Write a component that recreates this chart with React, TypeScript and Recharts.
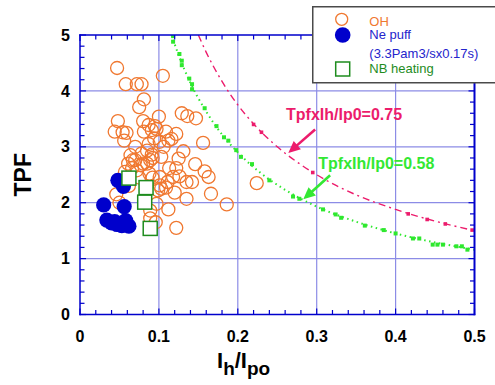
import React from 'react';
import {
  ComposedChart,
  XAxis,
  YAxis,
  Scatter,
  Line,
  ReferenceLine,
  ReferenceDot,
} from 'recharts';

const FONT = 'Liberation Sans, Arial, Helvetica, sans-serif';

const CHART_W = 495;
const CHART_H = 385;
const MARGIN = { top: 35, right: 20.5, bottom: 30.5, left: 30 };
const Y_AXIS_W = 50;
const X_AXIS_H = 40;
const PLOT = {
  x: MARGIN.left + Y_AXIS_W,
  y: MARGIN.top,
  w: CHART_W - MARGIN.left - Y_AXIS_W - MARGIN.right,
  h: CHART_H - MARGIN.top - MARGIN.bottom - X_AXIS_H,
};

const xDomain = [0, 0.5];
const yDomain = [0, 5];
const xTicks = [0, 0.02, 0.04, 0.06, 0.08, 0.1, 0.12, 0.14, 0.16, 0.18, 0.2, 0.22, 0.24, 0.26, 0.28, 0.3, 0.32, 0.34, 0.36, 0.38, 0.4, 0.42, 0.44, 0.46, 0.48, 0.5];
const yTicks = [0, 0.2, 0.4, 0.6, 0.8, 1, 1.2, 1.4, 1.6, 1.8, 2, 2.2, 2.4, 2.6, 2.8, 3, 3.2, 3.4, 3.6, 3.8, 4, 4.2, 4.4, 4.6, 4.8, 5];
const xMajorLabels = ['0', '0.1', '0.2', '0.3', '0.4', '0.5'];
const yMajorLabels = ['0', '1', '2', '3', '4', '5'];
const xGrid = [0.1, 0.2, 0.3, 0.4];
const yGrid = [1, 2, 3, 4];

// OH discharges (open orange circles)
const ohPoints: number[][] = [
  [0.047, 4.41], [0.058, 4.12], [0.072, 4.12], [0.078, 4.12], [0.105, 4.27],
  [0.081, 3.85], [0.075, 3.71], [0.048, 3.46], [0.044, 3.27], [0.054, 3.26],
  [0.059, 3.25], [0.056, 3.11], [0.080, 3.46], [0.087, 3.39], [0.081, 3.27],
  [0.100, 3.54], [0.097, 3.32], [0.091, 3.30], [0.095, 3.37], [0.109, 3.27],
  [0.122, 3.23], [0.116, 3.14], [0.112, 3.11], [0.101, 3.09], [0.106, 3.00],
  [0.129, 3.60], [0.136, 3.55], [0.147, 3.51], [0.156, 3.07],
  [0.064, 2.85], [0.067, 2.76], [0.061, 2.70], [0.070, 2.76], [0.077, 2.67],
  [0.080, 2.70], [0.085, 2.93], [0.089, 2.76], [0.091, 2.86], [0.092, 2.80],
  [0.085, 2.70], [0.103, 2.82], [0.125, 2.79], [0.122, 2.62], [0.118, 2.46],
  [0.126, 2.47], [0.146, 2.69], [0.158, 2.56], [0.163, 2.46], [0.135, 2.37],
  [0.142, 2.37], [0.111, 2.37], [0.101, 2.46], [0.101, 2.31], [0.109, 2.27],
  [0.103, 2.25], [0.120, 2.18], [0.135, 2.07], [0.166, 2.16], [0.099, 2.22],
  [0.097, 1.98], [0.112, 1.88], [0.122, 1.55], [0.096, 1.65], [0.186, 1.97],
  [0.224, 2.35],
  [0.057, 2.55], [0.072, 2.58], [0.088, 2.52], [0.092, 2.45], [0.046, 2.15],
  [0.050, 2.00], [0.089, 1.86], [0.089, 1.72], [0.062, 2.30], [0.075, 2.45],
  [0.066, 2.62], [0.078, 2.88], [0.087, 3.05], [0.070, 3.00], [0.113, 2.62],
  [0.131, 2.92], [0.094, 3.15],
];

// Ne puff (filled blue circles)
const nePoints: number[][] = [
  [0.048, 2.40], [0.055, 2.29], [0.030, 1.96], [0.056, 1.93], [0.034, 1.69],
  [0.040, 1.64], [0.047, 1.61], [0.053, 1.59], [0.062, 1.58], [0.058, 1.68],
  [0.044, 1.66],
];

// NB heating (open green squares)
const nbPoints: number[][] = [
  [0.062, 2.44], [0.0837, 2.27], [0.082, 2.01], [0.089, 1.54],
];

// Tpf x Ih/Ip0 = 0.75 curve
const curve075: number[][] = [
  [0.15, 5.0], [0.16, 4.69], [0.18, 4.17], [0.2, 3.75], [0.22, 3.41], [0.25, 3.0],
  [0.28, 2.68], [0.3, 2.5], [0.35, 2.14], [0.4, 1.88], [0.45, 1.67], [0.5, 1.5],
];
const marks075: number[][] = [
  [0.22, 3.40], [0.23, 3.26], [0.295, 2.54], [0.416, 1.80], [0.44, 1.70], [0.463, 1.62], [0.497, 1.51],
];

// Tpf x Ih/Ip0 = 0.58 curve
const curve058: number[][] = [
  [0.116, 5.0], [0.125, 4.64], [0.14, 4.14], [0.16, 3.63], [0.18, 3.22], [0.2, 2.9],
  [0.23, 2.52], [0.26, 2.23], [0.3, 1.93], [0.35, 1.66], [0.4, 1.45], [0.45, 1.29], [0.5, 1.16],
];
const marks058: number[][] = [
  [0.118, 4.98], [0.118, 4.88], [0.126, 4.66], [0.129, 4.54], [0.129, 4.46], [0.1385, 4.22],
  [0.142, 4.12], [0.142, 4.03], [0.158, 3.69], [0.173, 3.37], [0.1825, 3.17], [0.188, 3.11],
  [0.198, 2.94], [0.204, 2.82], [0.218, 2.69], [0.240, 2.40], [0.270, 2.11], [0.278, 2.07],
  [0.308, 1.88], [0.324, 1.79], [0.331, 1.73], [0.361, 1.59], [0.385, 1.51], [0.40, 1.45],
  [0.422, 1.36], [0.430, 1.36], [0.447, 1.25], [0.453, 1.25], [0.460, 1.25], [0.477, 1.22],
  [0.484, 1.22], [0.491, 1.16],
];

const annotations = [
  { text: 'TpfxIh/Ip0=0.75', x: 0.2611, y: 3.477, color: '#ec1c6c' },
  { text: 'TpfxIh/Ip0=0.58', x: 0.302, y: 2.61, color: '#33e833' },
];
const arrows = [
  { from: [0.298, 3.31], to: [0.264, 2.89], color: '#ec1c6c' },
  { from: [0.317, 2.49], to: [0.283, 2.06], color: '#33e833' },
];

const legendItems = [
  { label: 'OH', color: '#f07830' },
  { label: 'Ne puff', color: '#2424cc' },
  { label: '(3.3Pam3/sx0.17s)', color: '#2424cc' },
  { label: 'NB heating', color: '#1e8c1e' },
];

const toXY = (a: number[][]) => a.map(([x, y]) => ({ x, y }));

const AXIS_COLOR = 'rgb(0, 0, 204)';
const GRID = '#8c8ce6';

const isMajor = (v: number, step: number) => Math.abs(v / step - Math.round(v / step)) < 1e-6;

const OHShape = (p: any) => (
  <circle cx={p.cx} cy={p.cy} r={6.5} fill="none" stroke="#f07830" strokeWidth={1.3} />
);
const NeShape = (p: any) => <circle cx={p.cx} cy={p.cy} r={7.6} fill="#0000cc" />;
const NBShape = (p: any) => (
  <rect x={p.cx - 7} y={p.cy - 7} width={14} height={14} fill="#ffffff" stroke="#1e8c1e" strokeWidth={1.5} />
);
const PinkMark = (p: any) => <rect x={p.cx - 1.8} y={p.cy - 1.8} width={3.6} height={3.6} fill="#ec1c6c" />;
const GreenMark = (p: any) => <rect x={p.cx - 2} y={p.cy - 2} width={4} height={4} fill="#2ee82e" />;

// Plot frame with inward ticks on all four sides
const FrameOverlay = () => {
  const { x, y, w, h } = PLOT;
  const sx = (v: number) => x + ((v - xDomain[0]) / (xDomain[1] - xDomain[0])) * w;
  const sy = (v: number) => y + h - ((v - yDomain[0]) / (yDomain[1] - yDomain[0])) * h;
  const rects: any[] = [];
  xTicks.forEach((v, i) => {
    const len = isMajor(v, 0.1) ? 6 : 4.5;
    const px = sx(v);
    rects.push(<rect key={`b${i}`} x={px - 0.6} y={y + h - len} width={1.2} height={len} />);
    rects.push(<rect key={`t${i}`} x={px - 0.6} y={y} width={1.2} height={len} />);
  });
  yTicks.forEach((v, i) => {
    const len = isMajor(v, 1) ? 6 : 4.5;
    const py = sy(v);
    rects.push(<rect key={`l${i}`} x={x} y={py - 0.6} width={len} height={1.2} />);
    rects.push(<rect key={`r${i}`} x={x + w - len} y={py - 0.6} width={len} height={1.2} />);
  });
  return (
    <svg
      width={CHART_W}
      height={CHART_H}
      style={{ position: 'absolute', left: 0, top: 0, pointerEvents: 'none', zIndex: 2 }}
    >
      <g fill={AXIS_COLOR}>
        {rects}
        <rect x={x - 0.75} y={y - 0.75} width={1.5} height={h + 1.5} />
        <rect x={x - 0.75} y={y + h - 0.75} width={w + 1.5} height={1.5} />
        <rect x={x - 0.75} y={y - 0.75} width={w + 1.5} height={1.5} />
        <rect x={x + w - 1} y={y - 0.75} width={2} height={h + 1.5} />
      </g>
    </svg>
  );
};

const makeArrow = (color: string) => (p: any) => {
  const x1 = Number(p.x1), y1 = Number(p.y1), x2 = Number(p.x2), y2 = Number(p.y2);
  const dx = x2 - x1, dy = y2 - y1;
  const len = Math.hypot(dx, dy) || 1;
  const ux = dx / len, uy = dy / len;
  const hl = 12, hw = 5.5;
  const bx = x2 - ux * hl, by = y2 - uy * hl;
  const px = -uy, py = ux;
  return (
    <g>
      <line x1={x1} y1={y1} x2={bx + ux * 2} y2={by + uy * 2} stroke={color} strokeWidth={2.6} />
      <polygon points={`${x2},${y2} ${bx + px * hw},${by + py * hw} ${bx - px * hw},${by - py * hw}`} fill={color} />
    </g>
  );
};

const makeText = (text: string, color: string) => (p: any) => (
  <text x={p.cx} y={p.cy} fill={color} fontSize={16} fontWeight="bold" fontFamily={FONT} textAnchor="start">
    {text}
  </text>
);

const XTitle = (props: any) => {
  const vb = props.viewBox || { x: PLOT.x, y: PLOT.y + PLOT.h, width: PLOT.w };
  return (
    <text x={vb.x + 137} y={vb.y + 53.5} fontFamily={FONT} fontWeight="bold" fill="#000">
      <tspan fontSize={22}>I</tspan>
      <tspan fontSize={19} dy={7}>h</tspan>
      <tspan fontSize={22} dy={-7}>/I</tspan>
      <tspan fontSize={19} dy={7}>po</tspan>
    </text>
  );
};

const YTitle = (props: any) => {
  const vb = props.viewBox || { x: MARGIN.left, y: PLOT.y, width: Y_AXIS_W, height: PLOT.h };
  const cx = vb.x + 0.5;
  const cy = vb.y + vb.height / 2;
  return (
    <text
      x={0}
      y={0}
      transform={`translate(${cx}, ${cy}) rotate(-90)`}
      textAnchor="middle"
      fontFamily={FONT}
      fontWeight="bold"
      fontSize={23}
      fill="#000"
    >
      TPF
    </text>
  );
};

const LegendBox = () => (
  <svg width={190} height={78} style={{ display: 'block' }}>
    <rect x={0.75} y={0.75} width={200} height={76} fill="#ffffff" stroke="#4a4a4a" strokeWidth={1.5} />
    <circle cx={29.7} cy={13.3} r={6} fill="none" stroke="#f07830" strokeWidth={1.3} />
    <circle cx={30.7} cy={29} r={7.8} fill="#0000cc" />
    <rect x={23.7} y={56} width={14} height={14} fill="#ffffff" stroke="#1e8c1e" strokeWidth={1.5} />
    <text x={57.3} y={20.3} fontSize={13} fontFamily={FONT} fill={legendItems[0].color}>{legendItems[0].label}</text>
    <text x={57.3} y={33} fontSize={13} fontFamily={FONT} fill={legendItems[1].color}>{legendItems[1].label}</text>
    <text x={57.3} y={51.5} fontSize={13} fontFamily={FONT} fill={legendItems[2].color}>{legendItems[2].label}</text>
    <text x={57.3} y={67} fontSize={13} fontFamily={FONT} fill={legendItems[3].color}>{legendItems[3].label}</text>
  </svg>
);

const tickStyle = { fontSize: 16, fontWeight: 'bold', fill: '#000', fontFamily: FONT };

export default function App() {
  return (
    <div style={{ position: 'absolute', left: 0, top: 0, width: CHART_W, height: CHART_H, overflow: 'hidden', background: '#fff' }}>
      <ComposedChart width={CHART_W} height={CHART_H} margin={MARGIN}>
        <XAxis
          type="number"
          dataKey="x"
          domain={xDomain}
          allowDataOverflow
          ticks={xTicks}
          interval={0}
          tickFormatter={(v: number) => (isMajor(v, 0.1) ? xMajorLabels[Math.round(v / 0.1)] : '')}
          tickSize={-5}
          tickMargin={21}
          height={X_AXIS_H}
          axisLine={false}
          tickLine={false}
          tick={tickStyle}
          label={<XTitle />}
        />
        <YAxis
          type="number"
          dataKey="y"
          domain={yDomain}
          allowDataOverflow
          ticks={yTicks}
          interval={0}
          tickFormatter={(v: number) => (isMajor(v, 1) ? yMajorLabels[Math.round(v)] : '')}
          tickSize={-5}
          tickMargin={15}
          width={Y_AXIS_W}
          axisLine={false}
          tickLine={false}
          tick={tickStyle}
          label={<YTitle />}
        />

        {xGrid.map((v) => (
          <ReferenceLine key={`gx${v}`} x={v} stroke={GRID} strokeWidth={1.2} />
        ))}
        {yGrid.map((v) => (
          <ReferenceLine key={`gy${v}`} y={v} stroke={GRID} strokeWidth={1.2} />
        ))}

        <Line
          data={toXY(curve075)}
          dataKey="y"
          type="monotone"
          stroke="#ec1c6c"
          strokeWidth={1.4}
          strokeDasharray="7 4 2 4"
          dot={false}
          activeDot={false}
          isAnimationActive={false}
          legendType="none"
        />
        <Line
          data={toXY(curve058)}
          dataKey="y"
          type="monotone"
          stroke="#2ee82e"
          strokeWidth={2}
          strokeDasharray="1.5 3.5"
          dot={false}
          activeDot={false}
          isAnimationActive={false}
          legendType="none"
        />
        <Scatter data={toXY(marks075)} shape={PinkMark} isAnimationActive={false} legendType="none" />
        <Scatter data={toXY(marks058)} shape={GreenMark} isAnimationActive={false} legendType="none" />

        <Scatter name="OH" data={toXY(ohPoints)} shape={OHShape} isAnimationActive={false} />
        <Scatter name="Ne puff" data={toXY(nePoints)} shape={NeShape} isAnimationActive={false} />
        <Scatter name="NB heating" data={toXY(nbPoints)} shape={NBShape} isAnimationActive={false} />

        {arrows.map((a, i) => (
          <ReferenceLine
            key={`ar${i}`}
            segment={[{ x: a.from[0], y: a.from[1] }, { x: a.to[0], y: a.to[1] }]}
            shape={makeArrow(a.color)}
          />
        ))}
        {annotations.map((a, i) => (
          <ReferenceDot key={`an${i}`} x={a.x} y={a.y} shape={makeText(a.text, a.color)} />
        ))}
      </ComposedChart>
      <FrameOverlay />
      <div style={{ position: 'absolute', left: 312, top: 6, zIndex: 3 }}>
        <LegendBox />
      </div>
    </div>
  );
}
